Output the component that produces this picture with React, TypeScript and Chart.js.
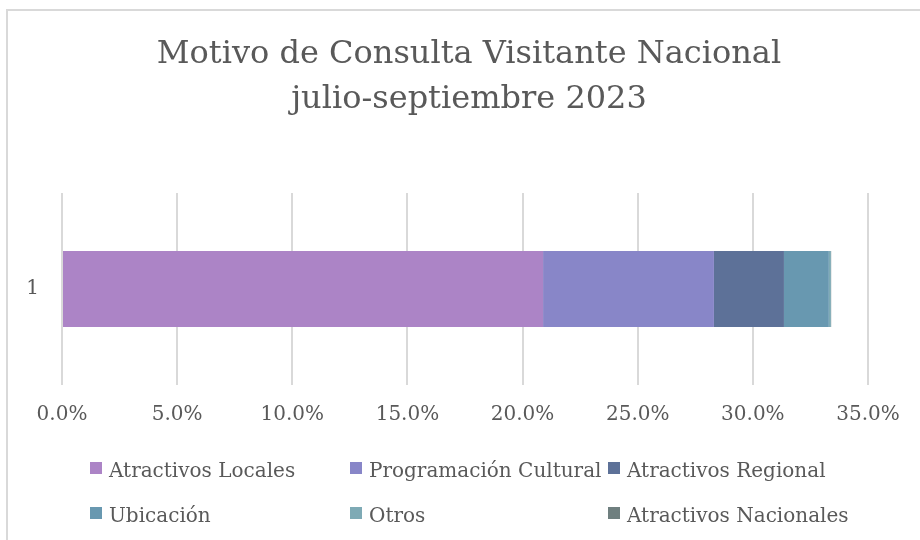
import React, { useEffect, useRef } from "react";
import { Chart, registerables } from "chart.js";

Chart.register(...registerables);

// ---- Data ----
const categories: string[] = ["1"];
const seriesNames: string[] = [
  "Atractivos Locales",
  "Programación Cultural",
  "Atractivos Regional",
  "Ubicación",
  "Otros",
  "Atractivos Nacionales",
];
const atractivosLocales: number[] = [20.89];
const programacionCultural: number[] = [7.42];
const atractivosRegional: number[] = [3.04];
const ubicacion: number[] = [1.95];
const otros: number[] = [0.09];
const atractivosNacionales: number[] = [0.01];
const seriesValues: number[][] = [
  atractivosLocales,
  programacionCultural,
  atractivosRegional,
  ubicacion,
  otros,
  atractivosNacionales,
];
const seriesColors: string[] = [
  "#AC84C6",
  "#8886C8",
  "#5D7198",
  "#6898B0",
  "#7EAAB5",
  "#6F7F7F",
];
const titleLines: string[] = [
  "Motivo de Consulta Visitante Nacional",
  "julio-septiembre 2023",
];
const xMin = 0;
const xMax = 35;
const xStep = 5;

const FONT = "'DejaVu Serif', serif";
const TEXT = "#595959";

const decorPlugin = {
  id: "decor",
  beforeDraw(chart: any) {
    const ctx = chart.ctx;
    ctx.save();
    ctx.fillStyle = "#ffffff";
    ctx.fillRect(0, 0, chart.width, chart.height);
    ctx.strokeStyle = "#d9d9d9";
    ctx.lineWidth = 2;
    ctx.strokeRect(7, 10, 2000, 2000);
    ctx.restore();
  },
  afterDraw(chart: any) {
    const ctx = chart.ctx;
    ctx.save();
    // Title
    ctx.fillStyle = TEXT;
    ctx.font = `32px ${FONT}`;
    ctx.textAlign = "center";
    ctx.textBaseline = "alphabetic";
    const baselines = [63, 108];
    titleLines.forEach((line, i) => {
      ctx.fillText(line, 469, baselines[i]);
    });
    // Legend (grid of 3 columns)
    const colX = [90, 350, 608];
    const rowBase = [477, 522];
    ctx.font = `20px ${FONT}`;
    ctx.textAlign = "left";
    chart.data.datasets.forEach((ds: any, i: number) => {
      const c = i % 3;
      const r = Math.floor(i / 3);
      const x = colX[c];
      const b = rowBase[r];
      ctx.fillStyle = ds.backgroundColor;
      ctx.fillRect(x, b - 15, 12, 12);
      ctx.fillStyle = TEXT;
      ctx.fillText(ds.label, x + 19, b);
    });
    ctx.restore();
  },
};

export default function App() {
  const ref = useRef<HTMLCanvasElement | null>(null);

  useEffect(() => {
    if (!ref.current) return;
    const chart = new Chart(ref.current, {
      type: "bar",
      data: {
        labels: categories,
        datasets: seriesNames.map((name, i) => ({
          label: name,
          data: seriesValues[i],
          backgroundColor: seriesColors[i],
          borderWidth: 0,
          categoryPercentage: 0.8,
          barPercentage: 0.495,
        })),
      },
      options: {
        indexAxis: "y",
        responsive: false,
        animation: false,
        devicePixelRatio: 1,
        layout: {
          padding: { left: 0, top: 193, right: 52, bottom: 115 },
        },
        plugins: {
          legend: { display: false },
          title: { display: false },
          tooltip: { enabled: false },
        },
        scales: {
          x: {
            stacked: true,
            min: xMin,
            max: xMax,
            ticks: {
              stepSize: xStep,
              padding: 18,
              color: TEXT,
              font: { family: FONT, size: 20 },
              callback: (v: any) => Number(v).toFixed(1) + "%",
            },
            grid: {
              color: "#d9d9d9",
              lineWidth: 2,
              drawTicks: false,
            },
            border: { display: false },
            afterFit: (s: any) => {
              s.height = 40;
            },
          },
          y: {
            stacked: true,
            ticks: {
              padding: 23,
              color: TEXT,
              font: { family: FONT, size: 20 },
            },
            grid: { display: false, drawTicks: false },
            border: { display: false },
            afterFit: (s: any) => {
              s.width = 62;
            },
          },
        },
      },
      plugins: [decorPlugin],
    });
    return () => chart.destroy();
  }, []);

  return (
    <div
      style={{
        position: "fixed",
        left: 0,
        top: 0,
        width: 920,
        height: 540,
        overflow: "hidden",
        background: "#fff",
      }}
    >
      <canvas ref={ref} width={920} height={540} style={{ display: "block" }} />
    </div>
  );
}
